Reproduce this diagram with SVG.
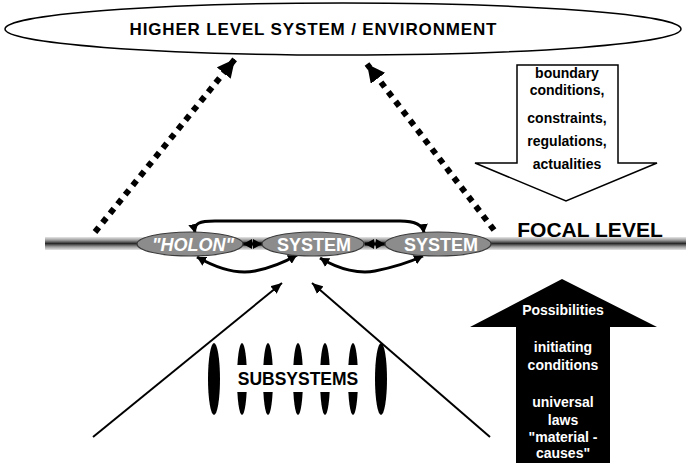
<svg xmlns="http://www.w3.org/2000/svg" width="686" height="463" viewBox="0 0 686 463">
  <defs>
    <linearGradient id="barGrad" x1="0" y1="0" x2="0" y2="1">
      <stop offset="0" stop-color="#e6e6e6"/>
      <stop offset="0.25" stop-color="#9a9a9a"/>
      <stop offset="0.5" stop-color="#2a2a2a"/>
      <stop offset="0.75" stop-color="#9a9a9a"/>
      <stop offset="1" stop-color="#e6e6e6"/>
    </linearGradient>
    <marker id="bigHead" markerUnits="userSpaceOnUse" markerWidth="20" markerHeight="18" refX="18" refY="9" orient="auto">
      <path d="M0,0 L18,9 L0,18 Z" fill="#000"/>
    </marker>
    <marker id="smallHead" markerUnits="userSpaceOnUse" markerWidth="10" markerHeight="10" refX="9" refY="5" orient="auto-start-reverse">
      <path d="M0,0 L9,5 L0,10 Z" fill="#000"/>
    </marker>
    <marker id="thinHead" markerUnits="userSpaceOnUse" markerWidth="12" markerHeight="10" refX="11" refY="5" orient="auto">
      <path d="M0,0 L11,5 L0,10 Z" fill="#000"/>
    </marker>
  </defs>
  <style>
    .lbl { font-family: "Liberation Sans", Arial, sans-serif; font-weight: bold; }
    .node { fill: #8c8c8c; stroke: #3a3a3a; stroke-width: 1.2; }
    .nodeText { font-family: "Liberation Sans", Arial, sans-serif; font-weight: bold; font-size: 18px; fill: #fff; text-anchor: middle; }
    .dotted { fill: none; stroke: #000; stroke-width: 6; stroke-dasharray: 6 6; marker-end: url(#bigHead); }
    .link { fill: none; stroke: #000; stroke-width: 3; marker-start: url(#smallHead); marker-end: url(#smallHead); }
    .thin { fill: none; stroke: #000; stroke-width: 2; marker-end: url(#thinHead); }
    .sub { fill: #000; }
    .armText { font-family: "Liberation Sans", Arial, sans-serif; font-weight: bold; font-size: 14px; text-anchor: middle; }
  </style>

  <rect width="686" height="463" fill="#fff"/>

  <!-- higher level system -->
  <g id="environment">
    <ellipse cx="343" cy="29" rx="338" ry="26" fill="#fff" stroke="#000" stroke-width="1.5"/>
    <text class="lbl" x="313" y="35" font-size="17" text-anchor="middle" textLength="367" lengthAdjust="spacing">HIGHER LEVEL SYSTEM / ENVIRONMENT</text>
  </g>

  <!-- focal level bar -->
  <g id="focal-level">
    <rect x="45" y="237" width="641" height="13" fill="url(#barGrad)"/>
    <text class="lbl" x="590" y="237" font-size="21" text-anchor="middle">FOCAL LEVEL</text>
  </g>

  <!-- connectors -->
  <g id="connectors">
    <path class="dotted" d="M95,232 L235,59"/>
    <path class="dotted" d="M494,230 L367,64"/>
    <path class="link" d="M195,233 C193,223 200,221 215,221 L400,221 C416,221 423,225 424,233"/>
    <path class="link" d="M197,257 C220,270 240,274 255,271 C270,268 285,262 297,255"/>
    <path class="link" d="M320,258 C340,270 360,274 375,271 C395,267 410,262 423,256"/>
    <path class="link" d="M243,244 L262,244"/>
    <path class="link" d="M365,244 L385,244"/>
    <path class="thin" d="M93,437 L282,283"/>
    <path class="thin" d="M490,437 L312,283"/>
  </g>

  <!-- focal level nodes -->
  <g id="holon">
    <ellipse class="node" cx="190" cy="244" rx="53" ry="12"/>
    <text class="nodeText" x="193" y="251" font-style="italic">"HOLON"</text>
  </g>
  <g id="system-1">
    <ellipse class="node" cx="313" cy="244" rx="51" ry="12"/>
    <text class="nodeText" x="314" y="251">SYSTEM</text>
  </g>
  <g id="system-2">
    <ellipse class="node" cx="438" cy="244" rx="53" ry="12"/>
    <text class="nodeText" x="441" y="251">SYSTEM</text>
  </g>

  <!-- subsystems -->
  <g id="subsystems">
    <ellipse class="sub" cx="214" cy="379" rx="6" ry="36"/>
    <ellipse class="sub" cx="242" cy="379" rx="5" ry="36"/>
    <ellipse class="sub" cx="268" cy="379" rx="5" ry="36"/>
    <ellipse class="sub" cx="298" cy="379" rx="5" ry="36"/>
    <ellipse class="sub" cx="325" cy="379" rx="5" ry="36"/>
    <ellipse class="sub" cx="353" cy="379" rx="5" ry="36"/>
    <ellipse class="sub" cx="381" cy="379" rx="6" ry="36"/>
    <rect x="233" y="365" width="130" height="27" fill="#fff"/>
    <text class="lbl" x="298" y="385" font-size="17.5" text-anchor="middle">SUBSYSTEMS</text>
  </g>

  <!-- downward influence arrow -->
  <g id="top-down">
    <path d="M517,65 L618,65 L618,163 L657,163 L566,201 L475,163 L517,163 Z" fill="#fff" stroke="#000" stroke-width="1.5"/>
    <text class="armText" x="567" y="78" font-size="13.5">boundary</text>
    <text class="armText" x="567" y="95" font-size="13.5">conditions,</text>
    <text class="armText" x="567" y="123">constraints,</text>
    <text class="armText" x="567" y="146">regulations,</text>
    <text class="armText" x="567" y="169">actualities</text>
  </g>

  <!-- upward influence arrow -->
  <g id="bottom-up">
    <path d="M562,279 L657,327 L610,327 L610,463 L516,463 L516,327 L470,327 Z" fill="#000"/>
    <text class="armText" x="563" y="315" fill="#fff">Possibilities</text>
    <text class="armText" x="563" y="352" fill="#fff">initiating</text>
    <text class="armText" x="563" y="370" fill="#fff">conditions</text>
    <text class="armText" x="563" y="407" fill="#fff">universal</text>
    <text class="armText" x="563" y="425" fill="#fff">laws</text>
    <text class="armText" x="563" y="442" fill="#fff">"material -</text>
    <text class="armText" x="563" y="458" fill="#fff">causes"</text>
  </g>
</svg>
